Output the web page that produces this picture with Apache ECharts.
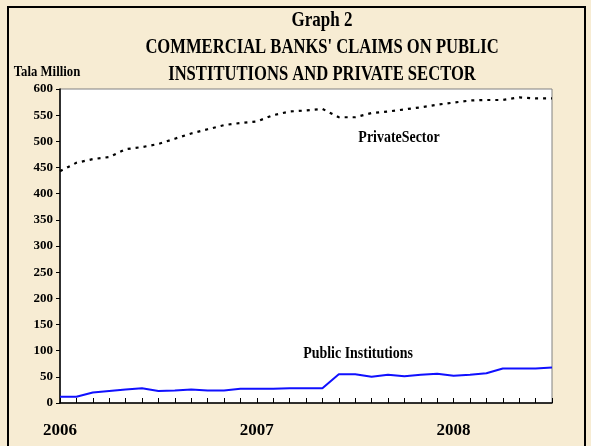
<!DOCTYPE html>
<html>
<head>
<meta charset="utf-8">
<script src="https://cdn.jsdelivr.net/npm/echarts@6/dist/echarts.min.js"></script>
<style>
html,body{margin:0;padding:0;background:#f7ecd3;}
#c{width:591px;height:446px;}
</style>
</head>
<body>
<div id="c"></div>
<script>
var months = [];
var monthNames = ["Jan","Feb","Mar","Apr","May","Jun","Jul","Aug","Sep","Oct","Nov","Dec"];
var years = ["2006","2007","2008"];
for (var y = 0; y < years.length; y++) {
  for (var m = 0; m < 12; m++) {
    if (months.length < 31) months.push(monthNames[m] + "-" + years[y]);
  }
}
var privateSector = [443,459,466,470,485,489,495,505,515,523,531,535,538,550,557,559,562,546,546,554,557,561,565,570,574,578,579,579,584,582,582];
var publicInst = [12,12,20,23,26,28,23,24,26,24,24,27,27,27,28,28,28,55,55,50,54,51,54,56,52,54,57,66,66,66,68];
var yTicks = {min: 0, max: 600, interval: 50};
var yearLabels = {"Jan-2006": "2006", "Jan-2007": "2007", "Jan-2008": "2008"};

var serif = "'Liberation Serif','Times New Roman',serif";
function condText(text, cx, cy, size, sx) {
  return {
    type: 'text', x: cx, y: cy, scaleX: sx, scaleY: 1, originX: 0, originY: 0,
    style: {text: text, font: 'bold ' + size + 'px ' + serif, fill: '#000', textAlign: 'center', textVerticalAlign: 'middle'},
    z: 100
  };
}

var chart = echarts.init(document.getElementById('c'));
chart.setOption({
  backgroundColor: '#f7ecd3',
  animation: false,
  grid: {left: 60, top: 89, right: 39, bottom: 43, show: true, backgroundColor: '#ffffff', borderColor: '#808080', borderWidth: 1},
  xAxis: {
    type: 'category', data: months, boundaryGap: false,
    axisLine: {lineStyle: {color: '#000', width: 1.5}},
    axisTick: {show: true, inside: true, length: 5, interval: 0, lineStyle: {color: '#000'}},
    axisLabel: {
      interval: function (i, v) { return !!yearLabels[v]; },
      formatter: function (v) { return yearLabels[v] || ''; },
      margin: 19, fontFamily: serif, fontWeight: 'bold', fontSize: 17, color: '#000'
    },
    splitLine: {show: false}
  },
  yAxis: {
    type: 'value', min: yTicks.min, max: yTicks.max, interval: yTicks.interval,
    axisLine: {show: true, lineStyle: {color: '#000', width: 1.5}},
    axisTick: {show: true, length: 4, lineStyle: {color: '#000'}},
    axisLabel: {margin: 7, fontFamily: serif, fontWeight: 'bold', fontSize: 13, color: '#000'},
    splitLine: {show: false}
  },
  series: [
    {name: 'Private Sector', type: 'line', data: privateSector, symbol: 'none', smooth: false,
     lineStyle: {color: '#000', width: 2.2, type: [3, 5]}},
    {name: 'Public Institutions', type: 'line', data: publicInst, symbol: 'none', smooth: false,
     lineStyle: {color: '#1010ff', width: 2}}
  ],
  graphic: [
    {type: 'rect', shape: {x: 8, y: 7, width: 577, height: 470}, style: {fill: 'none', stroke: '#000', lineWidth: 2}, z: 100},
    condText('Graph 2', 322, 21, 20, 0.85),
    condText("COMMERCIAL BANKS' CLAIMS ON PUBLIC", 322, 48, 20, 0.83),
    condText('INSTITUTIONS AND PRIVATE SECTOR', 322, 75, 20, 0.83),
    condText('Tala Million', 47, 72, 15, 0.85),
    condText('PrivateSector', 399, 138, 17, 0.82),
    condText('Public Institutions', 358, 354, 17, 0.82)
  ]
});
</script>
</body>
</html>
